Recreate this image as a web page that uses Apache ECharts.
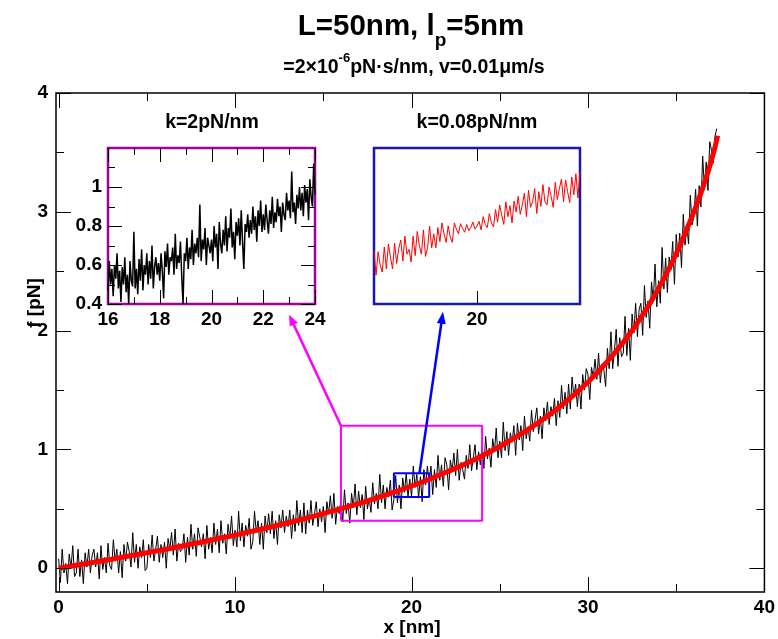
<!DOCTYPE html>
<html><head><meta charset="utf-8">
<script src="https://cdn.jsdelivr.net/npm/echarts@6/dist/echarts.min.js"></script>
<style>html,body{margin:0;padding:0;background:#fff}#c{width:778px;height:639px}</style>
</head><body><div id="c"></div>
<script>
const FONT = '"Liberation Sans", Arial, Helvetica, sans-serif';

// ---- tick values ----
const mainXMajor = [0, 10, 20, 30, 40];
const mainXMinor = [5, 15, 25, 35];
const mainYMajor = [0, 1, 2, 3, 4];
const mainYMinor = [0.5, 1.5, 2.5, 3.5];
const inset1XMajor = [16, 18, 20, 22, 24];
const inset1XMinor = [17, 19, 21, 23];
const inset1YMajor = [0.4, 0.6, 0.8, 1];
const inset1YMinor = [0.5, 0.7, 0.9, 1.1];
const inset2XMajor = [20];

// ---- zoom boxes & arrows (data coordinates) ----
const pinkBox = [[16, 0.4], [24, 0.4], [24, 1.2], [16, 1.2], [16, 0.4]];
const blueBox = [[19, 0.6], [21, 0.6], [21, 0.8], [19, 0.8], [19, 0.6]];
const magentaArrowFrom = [16, 1.2];      // main plot coords
const magentaArrowTo = [23.0, 0.345];    // inset 1 coords
const blueArrowFrom = [20.45, 0.8];      // main plot coords
const blueArrowTo = [19.67, 0.59];       // inset 2 coords

// ---- main plot: noisy force trace (k=2pN/nm) ----
const mainNoisy = [
[0,0.08],[0.1,-0.12],[0.2,0.16],[0.3,-0.04],[0.4,0.04],[0.5,-0.13],[0.6,0.12],[0.7,0],[0.8,0.19],[0.9,-0.07],
[1,-0.04],[1.1,0.16],[1.2,-0.07],[1.3,0.07],[1.4,-0.13],[1.5,0.13],[1.6,0.01],[1.7,0.16],[1.8,-0.04],[1.9,0.11],
[2,0.16],[2.1,0.01],[2.2,0.13],[2.3,-0.09],[2.4,0.19],[2.5,-0.01],[2.6,0.09],[2.7,-0.04],[2.8,0.21],[2.9,0.02],
[3,-0.01],[3.1,0.24],[3.2,0.06],[3.3,0.16],[3.4,-0.04],[3.5,0.14],[3.6,-0.08],[3.7,0.2],[3.8,0.06],[3.9,0.22],
[4,0.14],[4.1,0.01],[4.2,0.3],[4.3,0.05],[4.4,0.2],[4.5,0],[4.6,0.18],[4.7,0.09],[4.8,0.24],[4.9,-0.02],
[5,0],[5.1,0.2],[5.2,0.09],[5.3,0.28],[5.4,0.06],[5.5,0.16],[5.6,0.27],[5.7,0.05],[5.8,0.2],[5.9,0.09],
[6,0.22],[6.1,0],[6.2,0.25],[6.3,0.16],[6.4,0.3],[6.5,0.11],[6.6,0.33],[6.7,0.06],[6.8,0.21],[6.9,0.14],
[7,0.16],[7.1,0.29],[7.2,0.05],[7.3,0.26],[7.4,0.11],[7.5,0.37],[7.6,0.16],[7.7,0.29],[7.8,0.1],[7.9,0.34],
[8,0.33],[8.1,0.18],[8.2,0.29],[8.3,0.08],[8.4,0.36],[8.5,0.16],[8.6,0.26],[8.7,0.13],[8.8,0.38],[8.9,0.2],
[9,0.33],[9.1,0.13],[9.2,0.4],[9.3,0.21],[9.4,0.29],[9.5,0.12],[9.6,0.37],[9.7,0.25],[9.8,0.44],[9.9,0.19],
[10,0.32],[10.1,0.18],[10.2,0.48],[10.3,0.23],[10.4,0.38],[10.5,0.18],[10.6,0.36],[10.7,0.27],[10.8,0.42],[10.9,0.16],
[11,0.22],[11.1,0.48],[11.2,0.3],[11.3,0.4],[11.4,0.2],[11.5,0.38],[11.6,0.16],[11.7,0.44],[11.8,0.3],[11.9,0.46],
[12,0.29],[12.1,0.48],[12.2,0.25],[12.3,0.4],[12.4,0.2],[12.5,0.45],[12.6,0.34],[12.7,0.49],[12.8,0.3],[12.9,0.44],
[13,0.35],[13.1,0.49],[13.2,0.25],[13.3,0.45],[13.4,0.31],[13.5,0.57],[13.6,0.36],[13.7,0.49],[13.8,0.3],[13.9,0.55],
[14,0.29],[14.1,0.49],[14.2,0.38],[14.3,0.57],[14.4,0.36],[14.5,0.46],[14.6,0.56],[14.7,0.35],[14.8,0.5],[14.9,0.39],
[15,0.52],[15.1,0.3],[15.2,0.56],[15.3,0.46],[15.4,0.61],[15.5,0.42],[15.6,0.63],[15.7,0.37],[15.8,0.52],[15.9,0.46],
[16,0.58],[16.1,0.39],[16.2,0.66],[16.3,0.46],[16.4,0.55],[16.5,0.38],[16.6,0.63],[16.7,0.51],[16.8,0.71],[16.9,0.45],
[17,0.65],[17.1,0.51],[17.2,0.62],[17.3,0.41],[17.4,0.69],[17.5,0.5],[17.6,0.59],[17.7,0.47],[17.8,0.72],[17.9,0.54],
[18,0.63],[18.1,0.5],[18.2,0.79],[18.3,0.55],[18.4,0.7],[18.5,0.5],[18.6,0.68],[18.7,0.6],[18.8,0.74],[18.9,0.49],
[19,0.58],[19.1,0.78],[19.2,0.55],[19.3,0.7],[19.4,0.5],[19.5,0.76],[19.6,0.64],[19.7,0.8],[19.8,0.6],[19.9,0.75],
[20,0.6],[20.1,0.86],[20.2,0.68],[20.3,0.79],[20.4,0.59],[20.5,0.77],[20.6,0.56],[20.7,0.83],[20.8,0.7],[20.9,0.86],
[21,0.72],[21.1,0.86],[21.2,0.62],[21.3,0.83],[21.4,0.68],[21.5,0.95],[21.6,0.74],[21.7,0.87],[21.8,0.69],[21.9,0.93],
[22,0.87],[22.1,0.66],[22.2,0.91],[22.3,0.82],[22.4,0.97],[22.5,0.78],[22.6,1],[22.7,0.74],[22.8,0.89],[22.9,0.83],
[23,0.75],[23.1,0.95],[23.2,0.84],[23.3,1.04],[23.4,0.82],[23.5,0.93],[23.6,1.04],[23.7,0.83],[23.8,0.98],[23.9,0.87],
[24,1.03],[24.1,0.84],[24.2,1.11],[24.3,0.92],[24.4,1.01],[24.5,0.85],[24.6,1.09],[24.7,0.98],[24.8,1.18],[24.9,0.93],
[25,1.07],[25.1,0.93],[25.2,1.23],[25.3,0.99],[25.4,1.15],[25.5,0.95],[25.6,1.14],[25.7,1.06],[25.8,1.2],[25.9,0.95],
[26,1.22],[26.1,1.08],[26.2,1.2],[26.3,0.99],[26.4,1.28],[26.5,1.09],[26.6,1.19],[26.7,1.07],[26.8,1.33],[26.9,1.15],
[27,1.15],[27.1,1.35],[27.2,1.13],[27.3,1.28],[27.4,1.09],[27.5,1.35],[27.6,1.24],[27.7,1.4],[27.8,1.21],[27.9,1.36],
[28,1.28],[28.1,1.43],[28.2,1.2],[28.3,1.41],[28.4,1.27],[28.5,1.54],[28.6,1.34],[28.7,1.48],[28.8,1.3],[28.9,1.55],
[29,1.34],[29.1,1.61],[29.2,1.44],[29.3,1.55],[29.4,1.36],[29.5,1.55],[29.6,1.34],[29.7,1.63],[29.8,1.5],[29.9,1.68],
[30,1.63],[30.1,1.42],[30.2,1.69],[30.3,1.61],[30.4,1.76],[30.5,1.59],[30.6,1.81],[30.7,1.56],[30.8,1.72],[30.9,1.67],
[31,1.53],[31.1,1.85],[31.2,1.68],[31.3,1.99],[31.4,1.68],[31.5,1.84],[31.6,2.01],[31.7,1.7],[31.8,1.94],[31.9,1.78],
[32,1.81],[32.1,2.12],[32.2,1.79],[32.3,2.02],[32.4,1.75],[32.5,2.14],[32.6,1.98],[32.7,2.23],[32.8,1.95],[32.9,2.18],
[33,2.23],[33.1,1.96],[33.2,2.38],[33.3,2.11],[33.4,2.25],[33.5,2.02],[33.6,2.41],[33.7,2.25],[33.8,2.56],[33.9,2.2],
[34,2.42],[34.1,2.23],[34.2,2.7],[34.3,2.35],[34.4,2.61],[34.5,2.32],[34.6,2.62],[34.7,2.51],[34.8,2.75],[34.9,2.39],
[35,2.81],[35.1,2.62],[35.2,2.82],[35.3,2.53],[35.4,2.98],[35.5,2.72],[35.6,2.89],[35.7,2.73],[35.8,3.14],[35.9,2.89],
[36,2.96],[36.1,3.19],[36.2,2.88],[36.3,3.22],[36.4,3.04],[36.5,3.47],[36.6,3.19],[36.7,3.42],[36.8,3.18],[36.9,3.59],
[37,3.52],[37.1,3.41],[37.2,3.64],[37.3,3.7]
];

// ---- main plot: smooth trace (k=0.08pN/nm) ----
const mainSmooth = [
[0,0],[1,0.025],[2,0.05],[3,0.076],[4,0.103],[5,0.13],[6,0.158],[7,0.187],[8,0.217],[9,0.248],
[10,0.279],[11,0.312],[12,0.347],[13,0.383],[14,0.42],[15,0.459],[16,0.501],[17,0.544],[18,0.591],[19,0.64],
[20,0.692],[21,0.749],[22,0.81],[23,0.875],[24,0.947],[25,1.025],[26,1.111],[27,1.207],[28,1.313],[29,1.433],
[30,1.568],[31,1.723],[32,1.902],[33,2.11],[34,2.355],[35,2.647],[36,3.0],[36.5,3.2],[37,3.434],[37.35,3.64]
];

// ---- inset 1 (k=2pN/nm) ----
const inset1Data = [
[16,0.47],[16.05,0.62],[16.1,0.5],[16.15,0.58],[16.2,0.44],[16.25,0.6],[16.3,0.53],[16.35,0.66],[16.4,0.48],[16.45,0.57],
[16.5,0.41],[16.55,0.59],[16.6,0.5],[16.65,0.64],[16.7,0.46],[16.75,0.55],[16.8,0.4],[16.85,0.62],[16.9,0.52],[16.95,0.49],
[17,0.77],[17.05,0.48],[17.1,0.58],[17.15,0.45],[17.2,0.63],[17.25,0.52],[17.3,0.68],[17.35,0.47],[17.4,0.6],[17.45,0.55],
[17.5,0.66],[17.55,0.5],[17.6,0.62],[17.65,0.53],[17.7,0.7],[17.75,0.48],[17.8,0.59],[17.85,0.64],[17.9,0.55],[17.95,0.61],
[18,0.52],[18.05,0.66],[18.1,0.57],[18.15,0.43],[18.2,0.67],[18.25,0.59],[18.3,0.71],[18.35,0.55],[18.4,0.64],[18.45,0.62],
[18.5,0.69],[18.55,0.55],[18.6,0.76],[18.65,0.58],[18.7,0.65],[18.75,0.61],[18.8,0.72],[18.85,0.54],[18.9,0.4],[18.95,0.66],
[19,0.62],[19.05,0.74],[19.1,0.58],[19.15,0.69],[19.2,0.63],[19.25,0.78],[19.3,0.6],[19.35,0.71],[19.4,0.66],[19.45,0.74],
[19.5,0.64],[19.55,0.91],[19.6,0.62],[19.65,0.73],[19.7,0.68],[19.75,0.79],[19.8,0.6],[19.85,0.74],[19.9,0.7],[19.95,0.66],
[20,0.73],[20.05,0.62],[20.1,0.8],[20.15,0.69],[20.2,0.76],[20.25,0.58],[20.3,0.82],[20.35,0.71],[20.4,0.66],[20.45,0.78],
[20.5,0.7],[20.55,0.85],[20.6,0.67],[20.65,0.79],[20.7,0.74],[20.75,0.89],[20.8,0.69],[20.85,0.77],[20.9,0.63],[20.95,0.82],
[21,0.75],[21.05,0.84],[21.1,0.7],[21.15,0.88],[21.2,0.72],[21.25,0.58],[21.3,0.81],[21.35,0.77],[21.4,0.86],[21.45,0.74],
[21.5,0.83],[21.55,0.76],[21.6,0.9],[21.65,0.78],[21.7,0.85],[21.75,0.72],[21.8,0.88],[21.85,0.8],[21.9,0.93],[21.95,0.77],
[22,0.86],[22.05,0.78],[22.1,0.91],[22.15,0.83],[22.2,0.76],[22.25,0.88],[22.3,0.81],[22.35,0.95],[22.4,0.79],[22.45,0.87],
[22.5,0.82],[22.55,0.94],[22.6,0.85],[22.65,0.9],[22.7,0.77],[22.75,0.92],[22.8,0.86],[22.85,0.83],[22.9,0.97],[22.95,0.88],
[23,0.93],[23.05,0.84],[23.1,1.08],[23.15,0.87],[23.2,0.92],[23.25,0.81],[23.3,0.96],[23.35,0.89],[23.4,1],[23.45,0.88],
[23.5,0.97],[23.55,0.85],[23.6,1.01],[23.65,0.92],[23.7,0.99],[23.75,0.83],[23.8,1.04],[23.85,0.95],[23.9,0.9],[23.95,1.12],
[24,0.96]
];

// ---- inset 2 (k=0.08pN/nm) ----
const inset2Data = [
[19,0.668],[19.02,0.637],[19.04,0.667],[19.06,0.65],[19.08,0.641],[19.1,0.673],[19.12,0.645],[19.14,0.677],[19.16,0.66],[19.18,0.645],
[19.2,0.678],[19.22,0.652],[19.24,0.671],[19.26,0.682],[19.28,0.655],[19.3,0.687],[19.32,0.664],[19.34,0.67],[19.36,0.654],[19.38,0.687],
[19.4,0.662],[19.42,0.693],[19.44,0.675],[19.46,0.664],[19.48,0.695],[19.5,0.661],[19.52,0.672],[19.54,0.7],[19.56,0.672],[19.58,0.69],
[19.6,0.672],[19.62,0.698],[19.64,0.68],[19.66,0.704],[19.68,0.69],[19.7,0.679],[19.72,0.7],[19.74,0.686],[19.76,0.679],[19.78,0.704],
[19.8,0.696],[19.82,0.69],[19.84,0.703],[19.86,0.697],[19.88,0.692],[19.9,0.702],[19.92,0.694],[19.94,0.698],[19.96,0.705],[19.98,0.696],
[20,0.7],[20.02,0.706],[20.04,0.695],[20.06,0.712],[20.08,0.702],[20.1,0.698],[20.12,0.716],[20.14,0.704],[20.16,0.699],[20.18,0.721],
[20.2,0.705],[20.22,0.727],[20.24,0.714],[20.26,0.702],[20.28,0.731],[20.3,0.712],[20.32,0.726],[20.34,0.704],[20.36,0.732],[20.38,0.718],
[20.4,0.738],[20.42,0.715],[20.44,0.727],[20.46,0.742],[20.48,0.712],[20.5,0.746],[20.52,0.724],[20.54,0.731],[20.56,0.748],[20.58,0.716],
[20.6,0.744],[20.62,0.725],[20.64,0.753],[20.66,0.731],[20.68,0.727],[20.7,0.75],[20.72,0.738],[20.74,0.724],[20.76,0.756],[20.78,0.734],
[20.8,0.748],[20.82,0.76],[20.84,0.731],[20.86,0.759],[20.88,0.744],[20.9,0.73],[20.92,0.763],[20.94,0.74],[20.96,0.767],[20.98,0.736],
[21,0.77]
];

const chart = echarts.init(document.getElementById('c'), null, {renderer: 'canvas'});
const labelStyle = {fontSize: 19, fontWeight: 'bold', color: '#000', fontFamily: FONT};

function ax(o) {
  return {
    type: 'value', gridIndex: o.grid, position: o.pos, min: o.min, max: o.max,
    splitLine: {show: false}, axisLine: {show: false}, axisTick: {show: false},
    axisLabel: o.labels ? Object.assign({show: true, customValues: o.labels, margin: o.margin || 6,
      formatter: v => String(+(+v).toFixed(3))}, labelStyle) : {show: false}
  };
}

const mx = {min: -0.15, max: 40}, my = {min: -0.2, max: 4};
const i1x = {min: 16, max: 24}, i1y = {min: 0.4, max: 1.2};
const i2x = {min: 19, max: 21}, i2y = {min: 0.6, max: 0.8};
const PURPLE = '#a000a0', DBLUE = '#1818b0';

const xAxes = [
  ax(Object.assign({grid: 0, pos: 'bottom', labels: mainXMajor, margin: 6}, mx)),
  ax(Object.assign({grid: 1, pos: 'bottom', labels: inset1XMajor, margin: 6}, i1x)),
  ax(Object.assign({grid: 2, pos: 'bottom', labels: inset2XMajor, margin: 6}, i2x))
];
const yAxes = [
  ax(Object.assign({grid: 0, pos: 'left', labels: mainYMajor, margin: 8}, my)),
  ax(Object.assign({grid: 1, pos: 'left', labels: inset1YMajor, margin: 6}, i1y)),
  ax(Object.assign({grid: 2, pos: 'left'}, i2y))
];

// ticks drawn inward on all four sides of each frame
const tickSpecs = [
  {idx: 0, x: [[mainXMajor, 15], [mainXMinor, 8]], y: [[mainYMajor, 15], [mainYMinor, 8]], lim: [mx, my]},
  {idx: 1, x: [[inset1XMajor, 14], [inset1XMinor, 7]], y: [[inset1YMajor, 14], [inset1YMinor, 7]], lim: [i1x, i1y]},
  {idx: 2, x: [[inset2XMajor, 13]], y: [], lim: [i2x, i2y]}
];

const texts = [
  {type: 'text', x: 411, y: 12, z: 50, style: {
    text: '{a|L=50nm, l}{s|p}{a|=5nm}', align: 'center', verticalAlign: 'top',
    rich: {
      a: {fontSize: 29.5, fontWeight: 'bold', fontFamily: FONT, fill: '#000', lineHeight: 30, verticalAlign: 'top'},
      s: {fontSize: 19, fontWeight: 'bold', fontFamily: FONT, fill: '#000', lineHeight: 38, verticalAlign: 'bottom'}
    }}},
  {type: 'text', x: 414, y: 52, z: 50, style: {
    text: '{a|=2\u00d710}{s|-6}{a|pN\u00b7s/nm, v=0.01\u03bcm/s}', align: 'center', verticalAlign: 'top',
    rich: {
      a: {fontSize: 19.5, fontWeight: 'bold', fontFamily: FONT, fill: '#000', lineHeight: 26, verticalAlign: 'bottom'},
      s: {fontSize: 13, fontWeight: 'bold', fontFamily: FONT, fill: '#000', lineHeight: 12, verticalAlign: 'top'}
    }}},
  {type: 'text', x: 412, y: 628, z: 50, style: {text: 'x [nm]', align: 'center', verticalAlign: 'middle',
    font: 'bold 19px ' + FONT, fill: '#000'}},
  {type: 'text', x: 35, y: 303, rotation: Math.PI / 2, z: 50, style: {text: 'f [pN]', align: 'center', verticalAlign: 'middle',
    font: 'bold 19px ' + FONT, fill: '#000'}},
  {type: 'text', x: 212, y: 123, z: 50, style: {text: 'k=2pN/nm', align: 'center', verticalAlign: 'middle',
    font: 'bold 19.5px ' + FONT, fill: '#000'}},
  {type: 'text', x: 477, y: 123, z: 50, style: {text: 'k=0.08pN/nm', align: 'center', verticalAlign: 'middle',
    font: 'bold 19.5px ' + FONT, fill: '#000'}}
];

chart.setOption({
  animation: false,
  backgroundColor: '#fff',
  grid: [
    {left: 56, top: 93, width: 710, height: 499, show: true, borderColor: '#000', borderWidth: 1.5, backgroundColor: 'transparent'},
    {left: 108, top: 148, width: 207, height: 156, show: true, borderColor: PURPLE, borderWidth: 2.5, backgroundColor: 'transparent'},
    {left: 374, top: 148, width: 206, height: 156, show: true, borderColor: DBLUE, borderWidth: 2.5, backgroundColor: 'transparent'}
  ],
  xAxis: xAxes,
  yAxis: yAxes,
  series: [
    {type: 'line', xAxisIndex: 0, yAxisIndex: 0, data: mainNoisy, symbol: 'none', z: 2,
      lineStyle: {color: '#000', width: 1}},
    {type: 'line', xAxisIndex: 0, yAxisIndex: 0, data: pinkBox, symbol: 'none', z: 3,
      lineStyle: {color: '#ff00ff', width: 2}},
    {type: 'line', xAxisIndex: 0, yAxisIndex: 0, data: blueBox, symbol: 'none', z: 3,
      lineStyle: {color: '#0000ff', width: 2}},
    {type: 'line', xAxisIndex: 0, yAxisIndex: 0, data: mainSmooth, symbol: 'none', z: 4, smooth: true,
      lineStyle: {color: '#ff0000', width: 5}},
    {type: 'line', xAxisIndex: 1, yAxisIndex: 1, data: inset1Data, symbol: 'none', z: 2,
      lineStyle: {color: '#000', width: 1.5}},
    {type: 'line', xAxisIndex: 2, yAxisIndex: 2, data: inset2Data, symbol: 'none', z: 2,
      lineStyle: {color: '#ff0000', width: 1}}
  ],
  graphic: texts
});

function tickLine(x1, y1, x2, y2) {
  return {type: 'line', z: 60, silent: true, shape: {x1, y1, x2, y2}, style: {stroke: '#000', lineWidth: 1}};
}
const ticks = [];
tickSpecs.forEach(s => {
  const xs = {xAxisIndex: s.idx}, ys = {yAxisIndex: s.idx};
  const left = chart.convertToPixel(xs, s.lim[0].min), right = chart.convertToPixel(xs, s.lim[0].max);
  const bottom = chart.convertToPixel(ys, s.lim[1].min), top = chart.convertToPixel(ys, s.lim[1].max);
  s.x.forEach(([vals, len]) => vals.forEach(v => {
    const px = Math.round(chart.convertToPixel(xs, v)) + 0.5;
    ticks.push(tickLine(px, bottom, px, bottom - len), tickLine(px, top, px, top + len));
  }));
  s.y.forEach(([vals, len]) => vals.forEach(v => {
    const py = Math.round(chart.convertToPixel(ys, v)) + 0.5;
    ticks.push(tickLine(left, py, left + len, py), tickLine(right, py, right - len, py));
  }));
});

function arrow(S, T, color, lw, headLen, headW) {
  const dx = T[0] - S[0], dy = T[1] - S[1];
  const L = Math.hypot(dx, dy), ux = dx / L, uy = dy / L, nx = -uy, ny = ux;
  const bx = T[0] - ux * headLen, by = T[1] - uy * headLen;
  return [
    {type: 'line', z: 100, shape: {x1: S[0], y1: S[1], x2: bx + ux * 2, y2: by + uy * 2},
      style: {stroke: color, lineWidth: lw}},
    {type: 'polygon', z: 100, shape: {points: [[T[0], T[1]], [bx + nx * headW / 2, by + ny * headW / 2], [bx - nx * headW / 2, by - ny * headW / 2]]},
      style: {fill: color}}
  ];
}
const mS = chart.convertToPixel({xAxisIndex: 0, yAxisIndex: 0}, magentaArrowFrom);
const mT = chart.convertToPixel({xAxisIndex: 1, yAxisIndex: 1}, magentaArrowTo);
const bS = chart.convertToPixel({xAxisIndex: 0, yAxisIndex: 0}, blueArrowFrom);
const bT = chart.convertToPixel({xAxisIndex: 2, yAxisIndex: 2}, blueArrowTo);
chart.setOption({graphic: texts.concat(ticks, arrow(mS, mT, '#ff00ff', 2.5, 11, 9), arrow(bS, bT, '#0000ff', 2.5, 12, 9))});
</script>
</body></html>
